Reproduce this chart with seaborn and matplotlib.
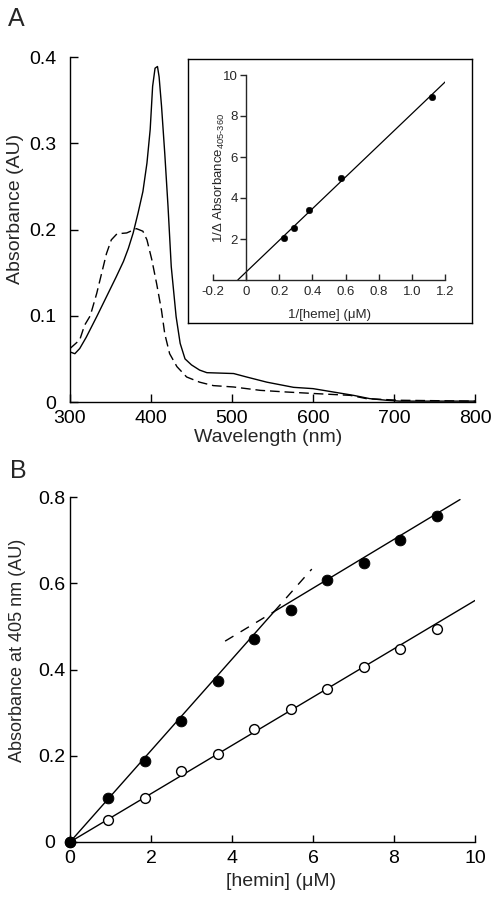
import numpy as np
import matplotlib
matplotlib.use("Agg")
import matplotlib.pyplot as plt
import matplotlib.transforms as mtransforms
import seaborn as sns

# Panel A: absorbance spectra
wl_solid = [300, 306, 312, 320, 333, 345, 357, 366, 372, 378, 384, 390, 395,
            399, 402, 405, 408, 410, 413, 417, 421, 425, 431, 436, 442, 450,
            460, 469, 502, 518, 543, 576, 600, 625, 650, 670, 691, 707, 800]
abs_solid = [0.058, 0.056, 0.062, 0.075, 0.099, 0.122, 0.145, 0.163, 0.178,
             0.196, 0.219, 0.244, 0.277, 0.316, 0.366, 0.387, 0.389, 0.377,
             0.343, 0.288, 0.227, 0.157, 0.099, 0.068, 0.050, 0.043, 0.037,
             0.034, 0.033, 0.029, 0.023, 0.017, 0.0155, 0.0116, 0.0077,
             0.0039, 0.002, 0.001, 0.001]

wl_dashed = [300, 312, 318, 325, 333, 339, 345, 351, 358, 370, 382, 390, 395,
             401, 407, 413, 417, 423, 432, 444, 460, 477, 502, 535, 567, 604,
             646, 666, 707, 800]
abs_dashed = [0.062, 0.072, 0.089, 0.100, 0.126, 0.149, 0.172, 0.188, 0.195,
              0.196, 0.201, 0.198, 0.188, 0.165, 0.137, 0.106, 0.079, 0.056,
              0.041, 0.029, 0.023, 0.019, 0.0174, 0.0135, 0.0116, 0.0097,
              0.0077, 0.0039, 0.002, 0.001]

# Inset: double reciprocal plot
inv_heme = [0.23, 0.29, 0.38, 0.57, 1.12]
inv_dabs = [2.05, 2.55, 3.40, 5.00, 8.95]
inset_fit_range = [-0.05, 1.22]

# Panel B: titration at 405 nm
hemin = [0, 0.95, 1.85, 2.75, 3.65, 4.55, 5.45, 6.35, 7.25, 8.15, 9.05]
abs_filled = [0, 0.103, 0.187, 0.280, 0.373, 0.471, 0.537, 0.607, 0.648,
              0.701, 0.755]
abs_open = [0, 0.052, 0.103, 0.164, 0.205, 0.261, 0.308, 0.355, 0.406,
            0.448, 0.495]

# fitted lines (slope, intercept)
fit_low = (0.106, 0.0)
fit_high = (0.0566, 0.249)
fit_open = (0.056, 0.0)
high_end = 9.63
low_dash_end = 5.97
high_dash_start = 3.83

sns.set_style("ticks")
plt.rcParams['font.family'] = ['Liberation Sans', 'DejaVu Sans']
plt.rcParams['mathtext.fontset'] = 'custom'
plt.rcParams['mathtext.rm'] = 'Liberation Sans'
plt.rcParams['axes.linewidth'] = 1.0
plt.rcParams['xtick.major.width'] = 1.0
plt.rcParams['ytick.major.width'] = 1.0

fig = plt.figure(figsize=(4.98, 8.99), dpi=100)
fig.patch.set_facecolor('white')


def style_axes(ax):
    ax.spines['top'].set_visible(False)
    ax.spines['right'].set_visible(False)
    ax.spines['left'].set_color('black')
    ax.spines['bottom'].set_color('black')
    ax.set_facecolor('none')


# ---- Panel A ----
axA = fig.add_axes([70 / 498, 1 - 402 / 899, 405 / 498, 345 / 899])
style_axes(axA)
sns.lineplot(x=wl_solid, y=abs_solid, color='black', lw=1.0, ax=axA)
sns.lineplot(x=wl_dashed, y=abs_dashed, color='black', lw=1.0,
             linestyle=(0, (7, 3.5)), ax=axA)
axA.set_xlim(300, 800)
axA.set_ylim(0, 0.4)
axA.set_xticks([300, 400, 500, 600, 700, 800])
axA.set_yticks([0, 0.1, 0.2, 0.3, 0.4])
axA.set_yticklabels(['0', '0.1', '0.2', '0.3', '0.4'])
axA.tick_params(direction='in', length=6, labelsize=14, colors='black')
axA.tick_params(axis='y', pad=10)
axA.tick_params(axis='x', pad=6)
axA.set_xlabel('Wavelength (nm)', fontsize=14)
axA.set_ylabel('Absorbance (AU)', fontsize=14)
axA.yaxis.set_label_coords(-0.114, 0.56)
axA.xaxis.set_label_coords(0.49, -0.078)

# inset frame
box = fig.add_axes([188 / 498, 1 - 323 / 899, 284 / 498, 264 / 899])
box.set_xticks([])
box.set_yticks([])
box.set_facecolor('white')
for s in box.spines.values():
    s.set_color('black')
    s.set_linewidth(1.0)

# inset plot
axI = fig.add_axes([213 / 498, 1 - 280 / 899, 232 / 498, 205 / 899])
axI.set_facecolor('none')
axI.spines['top'].set_visible(False)
axI.spines['right'].set_visible(False)
axI.spines['left'].set_position(('data', 0))
coef = np.polyfit(inv_heme, inv_dabs, 1)
fx = np.array(inset_fit_range)
sns.lineplot(x=fx, y=np.polyval(coef, fx), color='black', lw=0.9, ax=axI)
sns.scatterplot(x=inv_heme, y=inv_dabs, color='black', s=22,
                edgecolor='black', ax=axI, zorder=3)
axI.set_xlim(-0.2, 1.2)
axI.set_ylim(0, 10)
axI.set_xticks([-0.2, 0, 0.2, 0.4, 0.6, 0.8, 1.0, 1.2])
axI.set_xticklabels(['-0.2', '0', '0.2', '0.4', '0.6', '0.8', '1.0', '1.2'])
axI.set_yticks([2, 4, 6, 8, 10])
axI.tick_params(axis='x', direction='in', length=4, labelsize=9.5, pad=4)
axI.tick_params(axis='y', direction='out', length=4, labelsize=9.5, pad=2)
axI.set_xlabel('1/[heme] (\u03bcM)', fontsize=9.5, labelpad=0)
axI.set_ylabel('1/\u0394 Absorbance$_{405\u2010360}$', fontsize=9.5)
axI.yaxis.set_label_coords(0.06, 0.5)
axI.xaxis.set_label_coords(0.5, -0.14)

fig.text(8 / 498, 1 - 26 / 899, 'A', fontsize=18)

# ---- Panel B ----
axB = fig.add_axes([70 / 498, 1 - 842 / 899, 405 / 498, 345 / 899])
style_axes(axB)
kink = (fit_high[1] - fit_low[1]) / (fit_low[0] - fit_high[0])

x_low = np.array([0, kink])
x_high = np.array([kink, high_end])
x_low_dash = np.array([kink, low_dash_end])
x_high_dash = np.array([high_dash_start, kink])
x_open = np.array([0, 10])

sns.lineplot(x=x_low, y=fit_low[0] * x_low + fit_low[1], color='black',
             lw=1.0, ax=axB)
sns.lineplot(x=x_high, y=fit_high[0] * x_high + fit_high[1], color='black',
             lw=1.0, ax=axB)
sns.lineplot(x=x_low_dash, y=fit_low[0] * x_low_dash + fit_low[1],
             color='black', lw=1.0, linestyle=(0, (7, 6)), ax=axB)
sns.lineplot(x=x_high_dash, y=fit_high[0] * x_high_dash + fit_high[1],
             color='black', lw=1.0, linestyle=(0, (7, 6)), ax=axB)
sns.lineplot(x=x_open, y=fit_open[0] * x_open + fit_open[1], color='black',
             lw=1.0, ax=axB)

sns.scatterplot(x=hemin, y=abs_open, s=50, facecolor='white',
                edgecolor='black', linewidth=1.0, ax=axB, zorder=3,
                clip_on=False)
sns.scatterplot(x=hemin, y=abs_filled, s=60, color='black',
                edgecolor='black', ax=axB, zorder=4, clip_on=False)

axB.set_xlim(0, 10)
axB.set_ylim(0, 0.8)
axB.set_xticks([0, 2, 4, 6, 8, 10])
axB.set_yticks([0, 0.2, 0.4, 0.6, 0.8])
axB.set_yticklabels(['0', '0.2', '0.4', '0.6', '0.8'])
axB.tick_params(direction='in', length=5, labelsize=14, colors='black')
axB.tick_params(axis='y', pad=3)
axB.tick_params(axis='x', pad=6)
axB.set_xlabel('[hemin] (\u03bcM)', fontsize=14)
axB.set_ylabel('Absorbance at 405 nm (AU)', fontsize=13)
axB.yaxis.set_label_coords(-0.109, 0.556)
axB.xaxis.set_label_coords(0.52, -0.09)

# the "0" on the y axis sits clear of the origin point
zero_lbl = axB.yaxis.get_major_ticks()[0].label1
zero_lbl.set_transform(zero_lbl.get_transform()
                       + mtransforms.ScaledTranslation(-8 / 72, 0,
                                                       fig.dpi_scale_trans))

fig.text(10 / 498, 1 - 478 / 899, 'B', fontsize=18)

fig.savefig('out.png', dpi=100, facecolor='white')
